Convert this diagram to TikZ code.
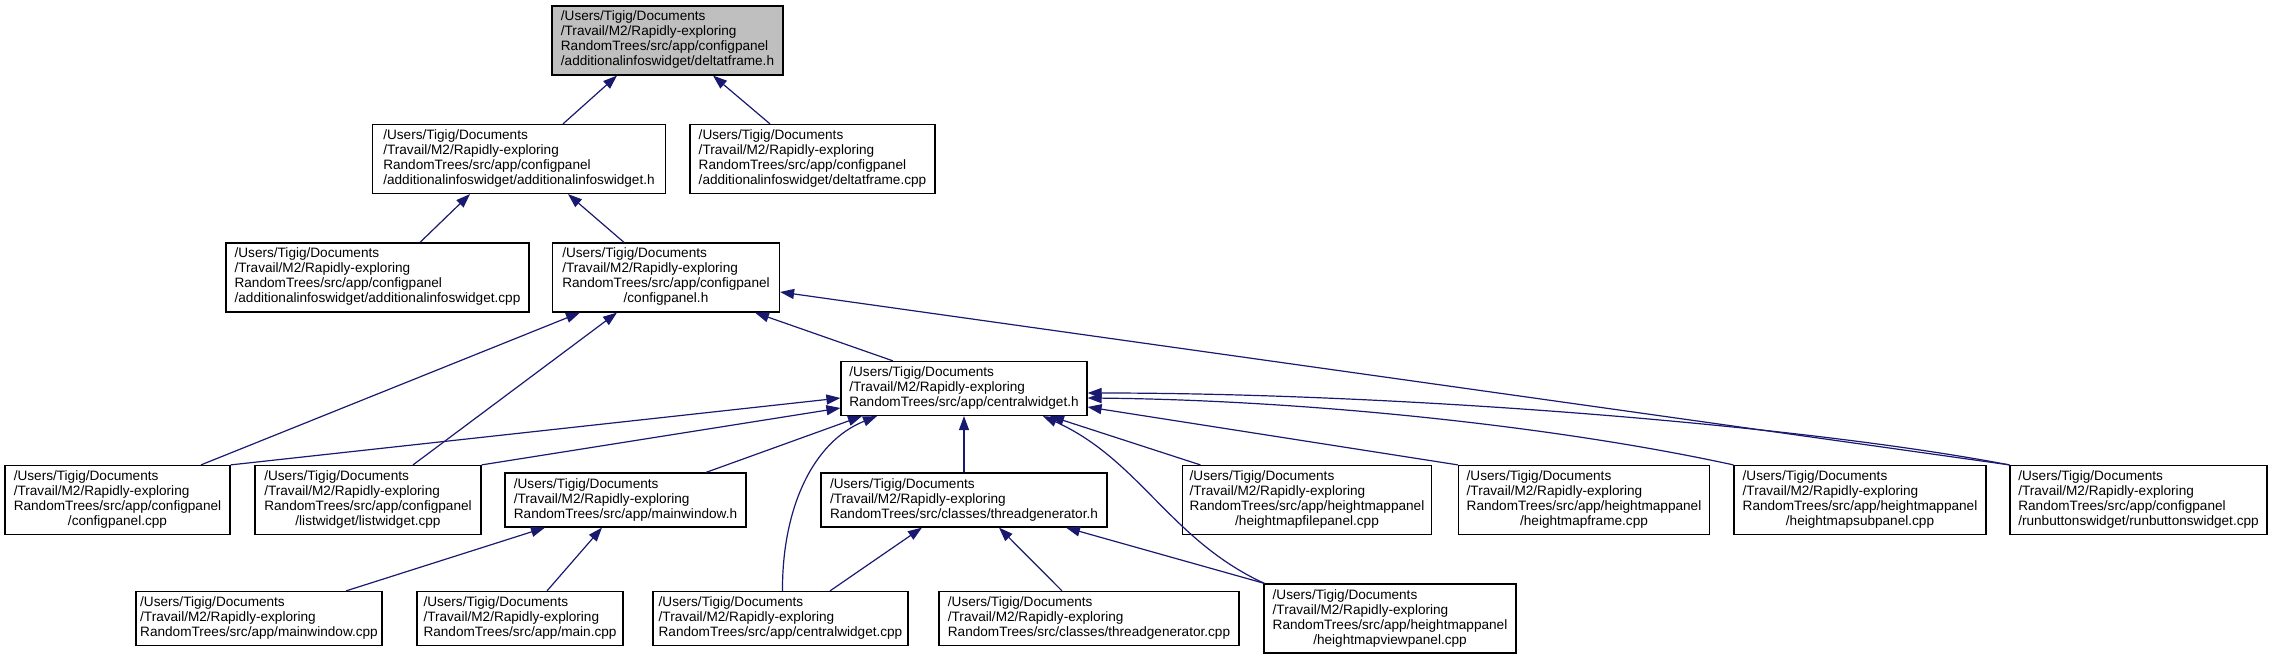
\documentclass[tikz,border=0pt]{standalone}
\usepackage{fontspec}
\setmainfont{Liberation Sans}
\usetikzlibrary{arrows.meta}
\definecolor{edgecol}{HTML}{191970}
\definecolor{topfill}{HTML}{BFBFBF}
\newcommand{\fourlines}[2]{\begin{tabular}{@{}l@{}}/Users/Tigig/Documents\\/Travail/M2/Rapidly-exploring\\#1\\\multicolumn{1}{@{}c@{}}{#2}\end{tabular}}
\newcommand{\threelines}[1]{\begin{tabular}{@{}l@{}}/Users/Tigig/Documents\\/Travail/M2/Rapidly-exploring\\#1\end{tabular}}
\begin{document}
\begin{tikzpicture}[x=1pt,y=-1pt,
  box/.style={draw=black, line width=1.2pt, fill=white, inner sep=0pt, minimum height=69pt, font=\fontsize{13.6}{15}\selectfont},
  box3/.style={box, minimum height=54pt},
  dep/.style={draw=edgecol, line width=1.2pt, -{Triangle[length=14pt,width=10pt]}}]
\useasboundingbox (0,0) rectangle (2273,660);
% rank 0
\node[box, fill=topfill, minimum width=231pt] (A) at (667.5,40.5) {\fourlines{RandomTrees/src/app/configpanel}{/additionalinfoswidget/deltatframe.h}};
% rank 1
\node[box, minimum width=293pt] (B) at (519,159) {\fourlines{RandomTrees/src/app/configpanel}{/additionalinfoswidget/additionalinfoswidget.h}};
\node[box, minimum width=245pt] (C) at (812.5,159) {\fourlines{RandomTrees/src/app/configpanel}{/additionalinfoswidget/deltatframe.cpp}};
% rank 2
\node[box, minimum width=303pt] (D) at (377.5,277.5) {\fourlines{RandomTrees/src/app/configpanel}{/additionalinfoswidget/additionalinfoswidget.cpp}};
\node[box, minimum width=227pt] (E) at (666,277.5) {\fourlines{RandomTrees/src/app/configpanel}{/configpanel.h}};
% rank 3
\node[box3, minimum width=246pt] (F) at (964,388.5) {\threelines{RandomTrees/src/app/centralwidget.h}};
% rank 4
\node[box, minimum width=225pt] (G) at (117.5,500) {\fourlines{RandomTrees/src/app/configpanel}{/configpanel.cpp}};
\node[box, minimum width=226pt] (H) at (368,500) {\fourlines{RandomTrees/src/app/configpanel}{/listwidget/listwidget.cpp}};
\node[box3, minimum width=241pt] (I) at (625.5,500) {\threelines{RandomTrees/src/app/mainwindow.h}};
\node[box3, minimum width=286pt] (J) at (964,500) {\threelines{RandomTrees/src/classes/threadgenerator.h}};
\node[box, minimum width=249pt] (K) at (1307,500) {\fourlines{RandomTrees/src/app/heightmappanel}{/heightmapfilepanel.cpp}};
\node[box, minimum width=251pt] (L) at (1584,500) {\fourlines{RandomTrees/src/app/heightmappanel}{/heightmapframe.cpp}};
\node[box, minimum width=252pt] (M) at (1860,500) {\fourlines{RandomTrees/src/app/heightmappanel}{/heightmapsubpanel.cpp}};
\node[box, minimum width=257pt] (N) at (2138.5,500) {\fourlines{RandomTrees/src/app/configpanel}{/runbuttonswidget/runbuttonswidget.cpp}};
% rank 5
\node[box3, minimum width=246pt] (O) at (259,618.5) {\threelines{RandomTrees/src/app/mainwindow.cpp}};
\node[box3, minimum width=206pt] (P) at (520,618.5) {\threelines{RandomTrees/src/app/main.cpp}};
\node[box3, minimum width=255pt] (Q) at (780.5,618.5) {\threelines{RandomTrees/src/app/centralwidget.cpp}};
\node[box3, minimum width=300pt] (R) at (1089,618.5) {\threelines{RandomTrees/src/classes/threadgenerator.cpp}};
\node[box, minimum width=252pt] (S) at (1390,618.5) {\fourlines{RandomTrees/src/app/heightmappanel}{/heightmapviewpanel.cpp}};
% edges
\draw[dep] ([xshift=44pt]B.north) -- ([xshift=-50.5pt]A.south);
\draw[dep] ([xshift=-42.5pt]C.north) -- ([xshift=45.5pt]A.south);
\draw[dep] ([xshift=42.5pt]D.north) -- ([xshift=-49pt]B.south);
\draw[dep] ([xshift=-42pt]E.north) -- ([xshift=49pt]B.south);
\draw[dep] ([xshift=83.5pt]G.north) -- ([xshift=-86pt]E.south);
\draw[dep] ([xshift=45pt]H.north) -- ([xshift=-49pt]E.south);
\draw[dep] ([xshift=-71pt]F.north) -- ([xshift=89pt]E.south);
\draw[dep] (N.north west) -- ([yshift=-14.5pt]E.east);
\draw[dep] (G.north east) -- ([yshift=-9.5pt]F.west);
\draw[dep] (H.north east) -- ([yshift=-19.5pt]F.west);
\draw[dep] ([xshift=80.5pt]I.north) -- ([xshift=-102pt]F.south);
\draw[dep] (J.north) -- (F.south);
\draw[dep] ([xshift=2pt]Q.north) .. controls (782,510) and (812,442) .. ([xshift=-87pt]F.south);
\draw[dep] ([xshift=1pt]S.north west) .. controls (1170,540) and (1140,460) .. ([xshift=79pt]F.south);
\draw[dep] ([xshift=18.5pt]K.north west) -- ([xshift=86pt]F.south);
\draw[dep] (L.north west) -- ([yshift=-18.5pt]F.east);
\draw[dep] (M.north west) .. controls (1550,425) and (1300,400) .. ([yshift=-9.5pt]F.east);
\draw[dep] (N.north west) .. controls (1800,425) and (1400,393) .. ([yshift=-4.5pt]F.east);
\draw[dep] ([xshift=87pt]O.north) -- ([xshift=-80.5pt]I.south);
\draw[dep] ([xshift=27pt]P.north) -- ([xshift=-23.5pt]I.south);
\draw[dep] ([xshift=49.5pt]Q.north) -- ([xshift=-42pt]J.south);
\draw[dep] ([xshift=-27pt]R.north) -- ([xshift=35pt]J.south);
\draw[dep] ([xshift=1pt]S.north west) -- ([xshift=102pt]J.south);
\end{tikzpicture}
\end{document}
